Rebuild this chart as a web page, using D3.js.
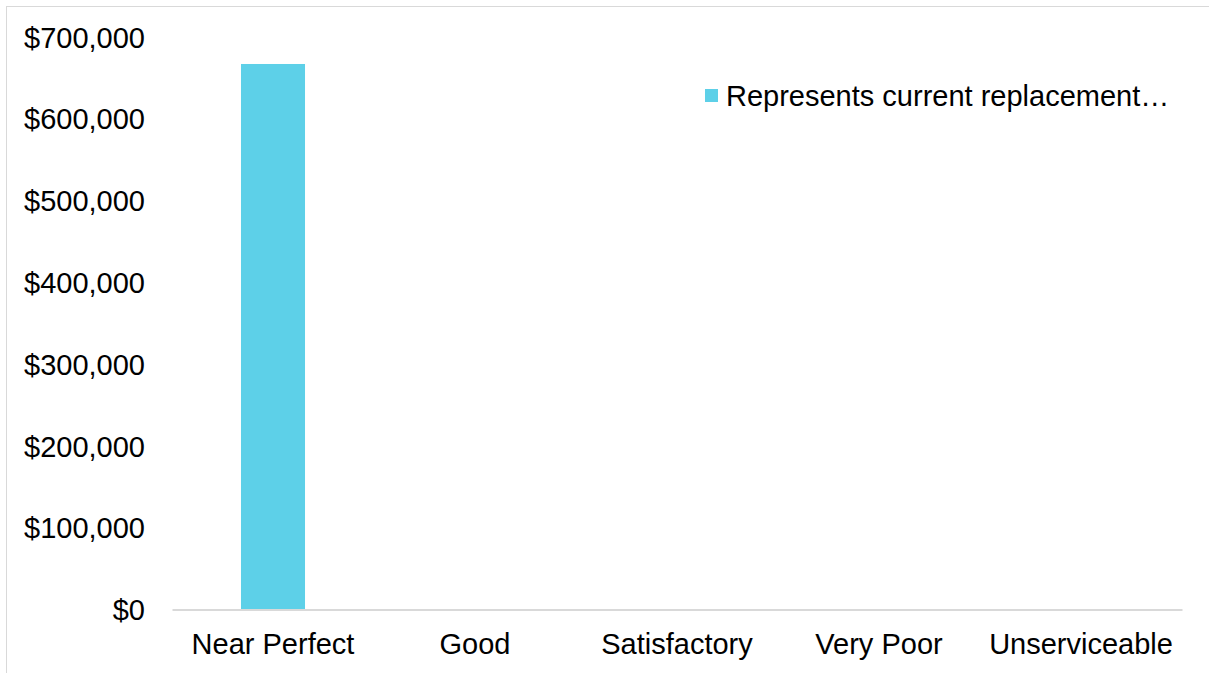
<!DOCTYPE html>
<html>
<head>
<meta charset="utf-8">
<script src="https://cdn.jsdelivr.net/npm/d3@7"></script>
<style>
  body { margin: 0; background: #fff; }
  text { font-family: "Liberation Sans", Arial, sans-serif; fill: #000; }
</style>
</head>
<body>
<div id="chart"></div>
<script>
// Chart data
var categories = ["Near Perfect", "Good", "Satisfactory", "Very Poor", "Unserviceable"];
var values = [667000, 0, 0, 0, 0];
var yTicks = [0, 100000, 200000, 300000, 400000, 500000, 600000, 700000];
var seriesName = "Represents current replacement\u2026";

var svgWidth = 1209;
var svgHeight = 673;

var margin = { top: 37, right: 27, bottom: 63.5, left: 172 };
var width = svgWidth - margin.left - margin.right;
var height = svgHeight - margin.top - margin.bottom;

var svg = d3.select("#chart")
  .append("svg")
  .attr("width", svgWidth)
  .attr("height", svgHeight);

// chart border (light grey frame)
svg.append("rect")
  .attr("x", 6.5)
  .attr("y", 6.5)
  .attr("width", svgWidth + 10)
  .attr("height", svgHeight + 10)
  .attr("fill", "none")
  .attr("stroke", "#d9d9d9")
  .attr("stroke-width", 1);

var chartGroup = svg.append("g")
  .attr("transform", `translate(${margin.left}, ${margin.top})`);

var xBand = d3.scaleBand()
  .domain(categories)
  .range([0, width])
  .paddingInner(0.683)
  .paddingOuter(0.3415);

var yLinear = d3.scaleLinear()
  .domain([0, 700000])
  .range([height, 0]);

// y axis labels
var fmt = d3.format("$,");
var leftAxis = d3.axisLeft(yLinear)
  .tickValues(yTicks)
  .tickFormat(d => fmt(d))
  .tickSize(0)
  .tickPadding(27);

var yAxis = chartGroup.append("g")
  .call(leftAxis);
yAxis.select(".domain").remove();
yAxis.selectAll("text")
  .style("font-size", "29px")
  .attr("dy", "0.35em");

// bars
chartGroup.selectAll("rect.bar")
  .data(values)
  .enter()
  .append("rect")
  .attr("class", "bar")
  .attr("x", (d, i) => xBand(categories[i]))
  .attr("y", d => yLinear(d))
  .attr("width", xBand.bandwidth())
  .attr("height", d => height - yLinear(d))
  .attr("fill", "#5dd0e8");

// x axis
var xPoint = d3.scaleBand().domain(categories).range([0, width]);
var bottomAxis = d3.axisBottom(xPoint)
  .tickSize(0)
  .tickPadding(24);

var xAxis = chartGroup.append("g")
  .attr("transform", `translate(0, ${height})`)
  .call(bottomAxis);
xAxis.select(".domain")
  .attr("stroke", "#d9d9d9")
  .attr("stroke-width", 2);
xAxis.selectAll("text")
  .style("font-size", "29px");

// legend
var legend = svg.append("g")
  .attr("transform", "translate(705, 96)");
legend.append("rect")
  .attr("x", 0)
  .attr("y", -7)
  .attr("width", 13)
  .attr("height", 13)
  .attr("fill", "#5dd0e8");
legend.append("text")
  .attr("x", 21)
  .attr("y", 0)
  .attr("dy", "0.35em")
  .style("font-size", "29px")
  .text(seriesName);
</script>
</body>
</html>
